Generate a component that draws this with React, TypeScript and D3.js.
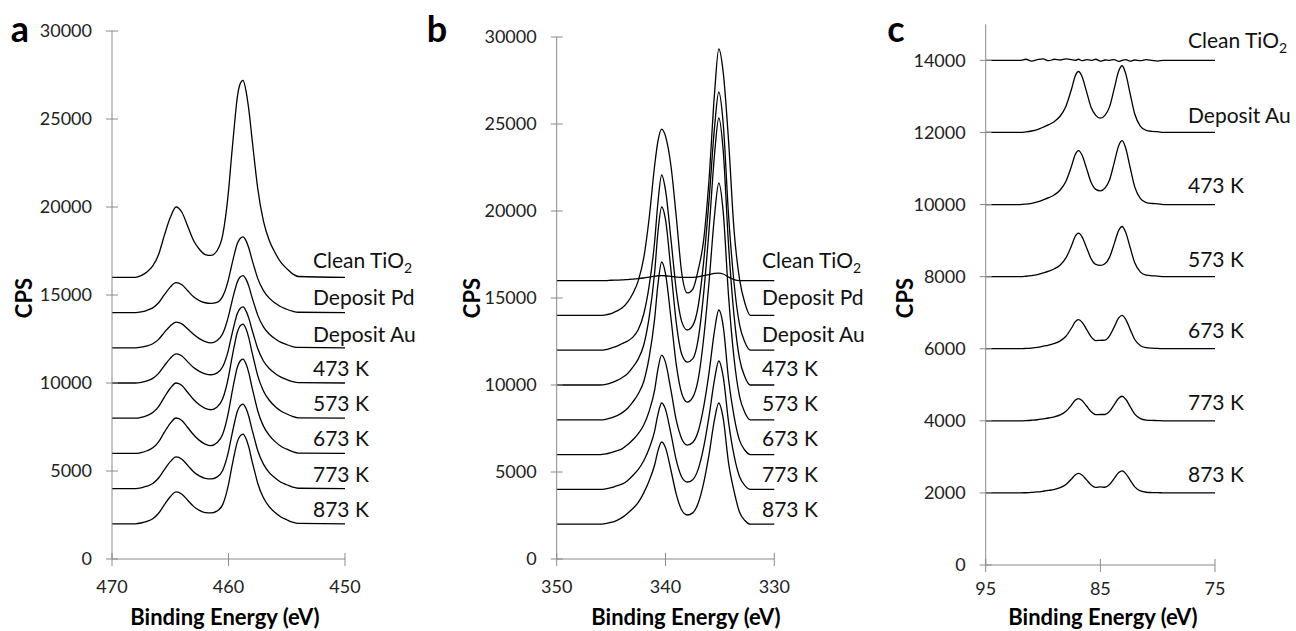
import * as d3 from 'd3';

// series names and vertical offsets (CPS) of each trace
const labelsAB = ['Clean TiO2', 'Deposit Pd', 'Deposit Au', '473 K', '573 K', '673 K', '773 K', '873 K'];
const labelsC = ['Clean TiO2', 'Deposit Au', '473 K', '573 K', '673 K', '773 K', '873 K'];
const offsetsAB = [16000, 14000, 12000, 10000, 8000, 6000, 4000, 2000];
const offsetsC = [14000, 12000, 10000, 8000, 6000, 4000, 2000];

const ticksYAB = [0, 5000, 10000, 15000, 20000, 25000, 30000];
const ticksYC = [0, 2000, 4000, 6000, 8000, 10000, 12000, 14000];
const ticksXA = [470, 460, 450];
const ticksXB = [350, 340, 330];
const ticksXC = [95, 85, 75];

// Ti 2p (panel a) — counts above each trace's offset
const energyA = [468, 467.5, 467, 466.5, 466, 465.5, 465, 464.5, 464, 463.5, 463, 462.5, 462, 461.5, 461, 460.5, 460, 459.75, 459.5, 459.25, 459, 458.75, 458.5, 458.25, 458, 457.75, 457.5, 457, 456.5, 456, 455.5, 455, 454.5, 454];
const tiClean = [0, 100, 300, 650, 1300, 2400, 3400, 4000, 3700, 2900, 2100, 1600, 1300, 1250, 1500, 2400, 4900, 6800, 8600, 10200, 11000, 11200, 10600, 9500, 8000, 6500, 5100, 3200, 2100, 1400, 850, 500, 200, 50];
const tiPd = [0, 40, 130, 270, 560, 1020, 1450, 1700, 1580, 1240, 900, 680, 560, 520, 580, 920, 1890, 2620, 3310, 3910, 4210, 4300, 4090, 3660, 3050, 2490, 1960, 1250, 820, 540, 330, 190, 80, 20];
const tiAu = [0, 35, 110, 230, 480, 880, 1240, 1460, 1360, 1070, 770, 520, 350, 280, 400, 800, 1800, 2500, 3160, 3730, 4020, 4100, 3900, 3490, 2910, 2380, 1870, 1190, 780, 510, 310, 180, 70, 20];
const ti473 = [0, 40, 120, 265, 545, 990, 1400, 1650, 1535, 1200, 875, 660, 520, 470, 560, 920, 1900, 2640, 3330, 3930, 4230, 4320, 4100, 3670, 3070, 2510, 1970, 1250, 820, 540, 330, 190, 80, 20];
const ti573 = [0, 50, 150, 320, 660, 1200, 1700, 2000, 1860, 1460, 1060, 760, 560, 480, 620, 1100, 2350, 3260, 4120, 4870, 5240, 5350, 5080, 4550, 3800, 3100, 2430, 1550, 1020, 670, 410, 240, 100, 20];
const ti673 = [0, 50, 150, 320, 660, 1210, 1710, 2010, 1870, 1470, 1060, 740, 530, 440, 600, 1090, 2360, 3270, 4130, 4880, 5250, 5360, 5090, 4560, 3810, 3110, 2440, 1550, 1020, 670, 410, 240, 100, 20];
const ti773 = [0, 45, 135, 290, 600, 1080, 1530, 1800, 1670, 1320, 960, 720, 580, 550, 650, 1030, 2110, 2930, 3700, 4370, 4700, 4800, 4560, 4080, 3410, 2780, 2180, 1390, 910, 600, 360, 220, 90, 20];
const ti873 = [0, 45, 135, 290, 600, 1090, 1540, 1810, 1680, 1340, 990, 760, 640, 620, 720, 1090, 2240, 3110, 3930, 4640, 5000, 5100, 4850, 4340, 3620, 2960, 2320, 1480, 970, 640, 390, 230, 90, 20];

// Pd 3d (panel b)
const energyB = [346, 345.5, 345, 344.5, 344, 343.5, 343, 342.5, 342, 341.5, 341, 340.7, 340.35, 340, 339.5, 339, 338.5, 338, 337.5, 337, 336.5, 336, 335.5, 335.1, 334.7, 334.2, 333.7, 333.2, 332.7, 332.2];
const pdClean = [0, 0, 20, 30, 40, 60, 80, 110, 150, 200, 250, 280, 290, 280, 240, 200, 180, 180, 190, 220, 280, 350, 420, 430, 380, 200, 60, 0, 0, 0];
const pdPd = [0, 30, 100, 250, 420, 750, 1260, 2000, 3300, 5600, 8600, 10000, 10710, 10300, 8600, 5600, 2400, 1290, 1500, 2600, 4300, 7800, 12700, 15310, 14000, 10000, 4900, 2100, 700, 0];
const pdAu = [0, 30, 120, 220, 370, 520, 750, 1190, 2080, 3710, 6230, 8460, 10070, 9200, 6380, 3410, 1630, 1160, 1410, 2520, 5050, 8610, 12760, 14840, 13060, 7720, 3860, 1480, 450, 0];
const pd473 = [0, 30, 120, 250, 420, 650, 1030, 1500, 2300, 3900, 6450, 8750, 10230, 9500, 6600, 3530, 1750, 1320, 1500, 2610, 5220, 8900, 13200, 15345, 13500, 7980, 3990, 1530, 460, 0];
const pd573 = [0, 30, 110, 230, 400, 650, 1030, 1500, 2200, 3600, 5800, 7750, 9070, 8400, 5850, 3130, 1500, 1020, 1290, 2310, 4630, 7890, 11700, 13610, 11980, 7080, 3540, 1360, 410, 0];
const pd673 = [0, 40, 120, 220, 330, 560, 850, 1200, 1700, 2500, 3700, 4900, 5720, 5300, 3700, 1950, 900, 550, 700, 1330, 2720, 4700, 7100, 8310, 7400, 4300, 2200, 830, 250, 0];
const pd773 = [0, 30, 100, 200, 300, 500, 800, 1150, 1650, 2350, 3350, 4300, 4966, 4600, 3200, 1650, 700, 425, 560, 1150, 2400, 4200, 6300, 7380, 6500, 3850, 1950, 740, 220, 0];
const pd873 = [0, 35, 100, 210, 380, 620, 900, 1250, 1800, 2500, 3400, 4200, 4724, 4400, 3100, 1700, 800, 530, 650, 1200, 2350, 4000, 6000, 6966, 6100, 3500, 1900, 700, 210, 0];

// Au 4f (panel c)
const energyC = [92, 91.5, 91, 90.5, 90, 89.5, 89, 88.5, 88, 87.5, 87.2, 86.9, 86.6, 86.2, 85.8, 85.4, 85, 84.6, 84.2, 83.8, 83.4, 83.1, 82.8, 82.4, 82, 81.5, 81, 80.5, 80, 79.5];
const auClean = [0, 30, -20, 20, 40, -10, 30, 10, 40, 20, 0, 30, -10, 20, 0, 30, -20, 10, 0, 20, -30, 0, 20, -20, 10, -10, 20, 0, -20, 0];
const auAu = [0, 15, 40, 80, 144, 215, 306, 456, 730, 1220, 1560, 1690, 1550, 1126, 690, 474, 397, 475, 710, 1200, 1705, 1850, 1645, 1073, 510, 168, 56, 30, 20, 0];
const au473 = [0, 13, 35, 71, 127, 190, 271, 404, 646, 1080, 1380, 1496, 1372, 997, 611, 420, 380, 455, 680, 1150, 1633, 1773, 1576, 1028, 489, 161, 54, 29, 19, 0];
const au573 = [0, 11, 29, 57, 103, 153, 218, 325, 520, 870, 1112, 1205, 1105, 803, 492, 338, 310, 357, 534, 902, 1282, 1391, 1237, 807, 384, 126, 42, 23, 15, 0];
const au673 = [0, 7, 19, 38, 69, 102, 146, 217, 347, 581, 743, 805, 738, 536, 328, 226, 233, 238, 355, 600, 853, 925, 823, 537, 255, 84, 28, 15, 10, 0];
const au773 = [0, 5, 15, 29, 53, 78, 112, 166, 266, 445, 569, 617, 566, 411, 252, 173, 175, 175, 261, 442, 627, 681, 605, 395, 188, 62, 21, 11, 7, 0];
const au873 = [0, 5, 13, 26, 46, 69, 98, 146, 234, 390, 499, 540, 496, 360, 221, 152, 169, 157, 234, 396, 563, 612, 543, 354, 168, 55, 18, 10, 7, 0];

const seriesA = [tiClean, tiPd, tiAu, ti473, ti573, ti673, ti773, ti873];
const seriesB = [pdClean, pdPd, pdAu, pd473, pd573, pd673, pd773, pd873];
const seriesC = [auClean, auAu, au473, au573, au673, au773, au873];

const FONT = 'Lato, "Open Sans", sans-serif';
const AXIS = '#8a8a8a';

interface PanelProps {
  letter: string;
  letterX: number;
  xDomain: [number, number];
  xRange: [number, number];
  yMax: number;
  yRange: [number, number];
  yTicks: number[];
  xTicks: number[];
  tickGap: number;
  energies: number[];
  series: number[][];
  offsets: number[];
  labels: string[];
  labelX: number;
  labelY: number[];
  cpsX: number;
  titleX: number;
}

function Label({ text, x, y }: { text: string; x: number; y: number }) {
  if (text.endsWith('TiO2')) {
    return (
      <text x={x} y={y} fontSize={21} fontFamily={FONT} fill="#111">
        {text.slice(0, -1)}
        <tspan fontSize={14} dy={5}>2</tspan>
      </text>
    );
  }
  return (
    <text x={x} y={y} fontSize={21} fontFamily={FONT} fill="#111">
      {text}
    </text>
  );
}

function Panel(p: PanelProps) {
  const x = d3.scaleLinear().domain(p.xDomain).range(p.xRange);
  const y = d3.scaleLinear().domain([0, p.yMax]).range(p.yRange);
  const x0 = p.xRange[0];
  const y0 = p.yRange[0];

  const line = d3
    .line<[number, number]>()
    .x((d) => x(d[0]))
    .y((d) => y(d[1]))
    .curve(d3.curveMonotoneX);

  return (
    <g>
      {/* traces */}
      {p.series.map((vals, i) => {
        const off = p.offsets[i];
        const pts: [number, number][] = [[p.xDomain[0], off]];
        vals.forEach((v, j) => pts.push([p.energies[j], off + v]));
        pts.push([p.xDomain[1], off]);
        return <path key={i} d={line(pts) || ''} fill="none" stroke="#000" strokeWidth={1.3} strokeLinejoin="round" />;
      })}

      {/* axes */}
      <line x1={x0} x2={x0} y1={y(0)} y2={y(p.yMax)} stroke={AXIS} strokeWidth={1} />
      <line x1={x0} x2={p.xRange[1]} y1={y0} y2={y0} stroke={AXIS} strokeWidth={1} />
      {p.yTicks.map((t) => (
        <g key={'y' + t}>
          <line x1={x0 - 6} x2={x0 + 6} y1={y(t)} y2={y(t)} stroke={AXIS} />
          <text x={x0 - 20} y={y(t)} dy="0.36em" textAnchor="end" fontSize={18} fontFamily={FONT} fill="#222">
            {t}
          </text>
        </g>
      ))}
      {p.xTicks.map((t) => (
        <g key={'x' + t}>
          <line x1={x(t)} x2={x(t)} y1={y0 - 6} y2={y0 + 7} stroke={AXIS} />
          <text x={x(t)} y={y0 + p.tickGap} textAnchor="middle" fontSize={18} fontFamily={FONT} fill="#222">
            {t}
          </text>
        </g>
      ))}

      {/* labels */}
      {p.labels.map((l, i) => (
        <Label key={l} text={l} x={p.labelX} y={p.labelY[i]} />
      ))}

      <text
        transform={`translate(${p.cpsX},298) rotate(-90)`}
        textAnchor="middle"
        fontSize={22}
        fontWeight={700}
        fontFamily={FONT}
        fill="#000"
      >
        CPS
      </text>
      <text x={p.titleX} y={625} textAnchor="middle" fontSize={22} fontWeight={700} fontFamily={FONT} fill="#000">
        Binding Energy (eV)
      </text>
      <text x={p.letterX} y={42} textAnchor="middle" fontSize={36} fontWeight={700} fontFamily={FONT} fill="#000">
        {p.letter}
      </text>
    </g>
  );
}

export default function App() {
  const labelYAB = [268, 305, 342, 376, 411, 446, 482, 517];
  const labelYC = [48, 123, 193, 267, 338, 410, 482];
  return (
    <svg
      width={1296}
      height={631}
      style={{ position: 'absolute', left: 0, top: 0, background: '#fff' }}
    >
      <rect width={1296} height={631} fill="#fff" />
      <Panel
        letter="a"
        letterX={20}
        xDomain={[470, 450]}
        xRange={[112, 345]}
        yMax={30000}
        yRange={[559, 31]}
        yTicks={ticksYAB}
        xTicks={ticksXA}
        tickGap={34}
        energies={energyA}
        series={seriesA}
        offsets={offsetsAB}
        labels={labelsAB}
        labelX={313}
        labelY={labelYAB}
        cpsX={32}
        titleX={225}
      />
      <Panel
        letter="b"
        letterX={437}
        xDomain={[350, 330]}
        xRange={[556.7, 774.3]}
        yMax={30000}
        yRange={[559, 37]}
        yTicks={ticksYAB}
        xTicks={ticksXB}
        tickGap={34}
        energies={energyB}
        series={seriesB}
        offsets={offsetsAB}
        labels={labelsAB}
        labelX={762}
        labelY={labelYAB}
        cpsX={480}
        titleX={686}
      />
      <Panel
        letter="c"
        letterX={896}
        xDomain={[95, 75]}
        xRange={[985.7, 1215]}
        yMax={15000}
        yRange={[565, 24.3]}
        yTicks={ticksYC}
        xTicks={ticksXC}
        tickGap={30}
        energies={energyC}
        series={seriesC}
        offsets={offsetsC}
        labels={labelsC}
        labelX={1188}
        labelY={labelYC}
        cpsX={913}
        titleX={1103}
      />
    </svg>
  );
}
